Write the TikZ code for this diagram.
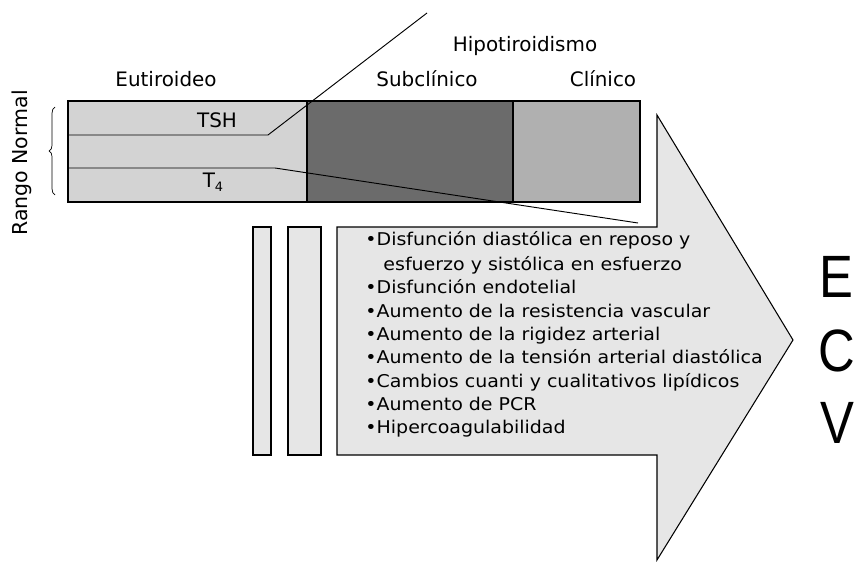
\documentclass[tikz,border=0pt]{standalone}
\usepackage{fontspec}
\setmainfont{DejaVu Sans}
\newfontfamily\listfont[FakeStretch=1.08]{DejaVu Sans}
\newfontfamily\bigfont[FakeStretch=0.85]{Liberation Sans}
\usetikzlibrary{positioning, decorations.pathreplacing}

\definecolor{eugray}{HTML}{D3D3D3}
\definecolor{subgray}{HTML}{6B6B6B}
\definecolor{cligray}{HTML}{B0B0B0}
\definecolor{arrgray}{HTML}{E6E6E6}

\begin{document}
\begin{tikzpicture}[x=0.03cm, y=-0.03cm, line width=0.8pt,
  lbl/.style = {anchor=base, font=\fontsize{17}{20}\selectfont},
  item/.style = {anchor=base west, inner sep=0pt, font=\listfont\fontsize{15}{18}\selectfont},
  big/.style = {anchor=base west, inner sep=0pt, font=\bigfont\fontsize{51}{55}\selectfont},
  bar/.style = {draw, line width=0.9pt}]
\useasboundingbox (0,0) rectangle (855,562);

% barra de estados
\draw[bar, fill=eugray] (68,101) rectangle (307,202);
\draw[bar, fill=subgray] (307,101) rectangle (513,202);
\draw[bar, fill=cligray] (513,101) rectangle (640,202);

\node[lbl] (eut) at (166,87) {Eutiroideo};
\node[lbl] (sub) at (427,87) {Subclínico};
\node[lbl] (cli) at (603,87) {Clínico};
\node[lbl] (hipo) at (525,52) {Hipotiroidismo};
\node[lbl] (tsh) at (217,128) {TSH};
\node[lbl] (t4) at (213,188) {T\raisebox{-0.35ex}{\fontsize{11}{12}\selectfont 4}};

% lineas de TSH y T4
\coordinate (tshA) at (68,135);
\coordinate (tshB) at (268,135);
\coordinate (tshC) at (427,13);
\coordinate (tfA) at (68,168);
\coordinate (tfB) at (275,168);
\coordinate (tfC) at (638,223);
\draw (tshA) -- (tshB) -- (tshC);
\draw (tfA) -- (tfB) -- (tfC);

% rango normal
\coordinate (rnTop) at (55,107);
\coordinate (rnBot) at (55,195);
\draw[line width=0.6pt, decorate, decoration={brace, amplitude=5pt}] (rnBot) -- (rnTop);
\node[rotate=90, font=\fontsize{17.5}{19}\selectfont] (rango) at (22,163) {Rango Normal};

% flecha y barras
\draw[bar, fill=arrgray] (253,227) rectangle (271,455);
\draw[bar, fill=arrgray] (288,227) rectangle (321,455);
\draw[bar, fill=arrgray] (337,227) -- (657,227) -- (657,115) -- (793,340)
  -- (657,560) -- (657,455) -- (337,455) -- cycle;

\node[item] (it1) at (365,245) {•Disfunción diastólica en reposo y};
\node[item] (it1b) at (383,270) {esfuerzo y sistólica en esfuerzo};
\foreach \yy/\txt [count=\i from 2] in {293/Disfunción endotelial,
    317/Aumento de la resistencia vascular,
    340/Aumento de la rigidez arterial,
    363/Aumento de la tensión arterial diastólica,
    387/Cambios cuanti y cualitativos lipídicos,
    410/Aumento de PCR,
    433/Hipercoagulabilidad}
  \node[item] (it\i) at (365,\yy) {•\txt};

\node[big] (e) at (819,297) {E};
\node[big] (c) at (818,371) {C};
\node[big] (v) at (820,443) {V};
\end{tikzpicture}
\end{document}
